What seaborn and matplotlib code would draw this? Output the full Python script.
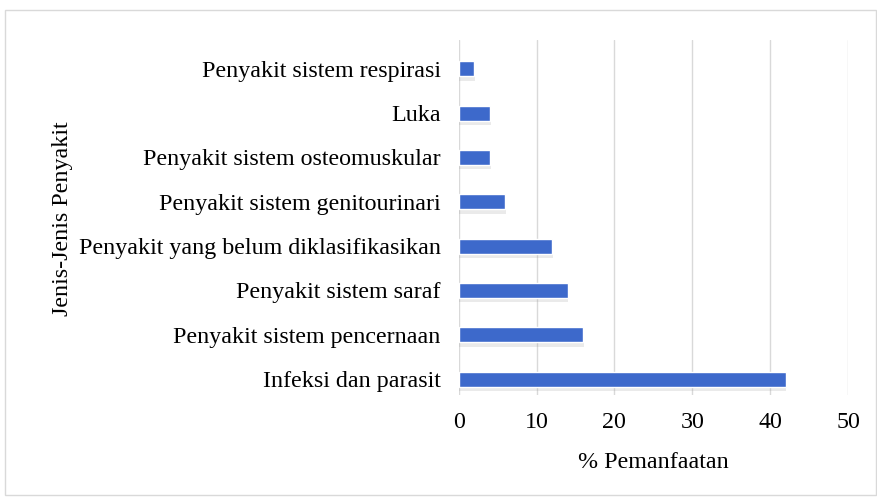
import numpy as np
import pandas as pd
import matplotlib
matplotlib.use('Agg')
from matplotlib import pyplot as plt
from matplotlib.patches import Rectangle
import matplotlib.patheffects as pe
import seaborn as sns

categories = ['Penyakit sistem respirasi', 'Luka', 'Penyakit sistem osteomuskular',
              'Penyakit sistem genitourinari', 'Penyakit yang belum diklasifikasikan',
              'Penyakit sistem saraf', 'Penyakit sistem pencernaan', 'Infeksi dan parasit']
values = [2, 4, 4, 6, 12, 14, 16, 42]

df = pd.DataFrame({'jenis': categories, 'persen': values})

sns.set_style('white')
plt.rcParams['font.family'] = ['Liberation Serif', 'DejaVu Serif']

fig = plt.figure(figsize=(8.77, 4.97), dpi=100)
ax = fig.add_axes([0.523, 0.205, 0.444, 0.715])

sns.barplot(data=df, x='persen', y='jenis', color='#3d69cb', width=0.34,
            saturation=1, ax=ax, zorder=3)
# soft drop shadow under the bars
for bar in ax.patches:
    bar.set_path_effects([pe.SimplePatchShadow(offset=(0.5, -3), shadow_rgbFace='#9a9a9a',
                                               alpha=0.2), pe.Normal()])

ax.set_xlim(0, 50)
ax.set_ylim(7.36, -0.655)
ax.set_xticks(np.arange(0, 51, 10))
ax.grid(True, axis='x', color='#d9d9d9', linewidth=1, zorder=0)
ax.grid(False, axis='y')
for s in ax.spines.values():
    s.set_visible(False)
ax.tick_params(axis='y', length=0, labelsize=17.3, pad=13, labelcolor='black')
ax.tick_params(axis='x', length=0, labelsize=17.3, pad=12, labelcolor='black')
ax.set_xlabel('% Pemanfaatan', fontsize=17.3, labelpad=14, color='black')
ax.set_ylabel('')
fig.text(0.071, 0.56, 'Jenis-Jenis Penyakit', rotation=90, fontsize=17.3,
         ha='center', va='center', color='black')

fig.patches.append(Rectangle((0.006, 0.005), 0.993, 0.975, transform=fig.transFigure,
                             fill=False, edgecolor='#d9d9d9', linewidth=1))

plt.savefig('out.png', dpi=100)
